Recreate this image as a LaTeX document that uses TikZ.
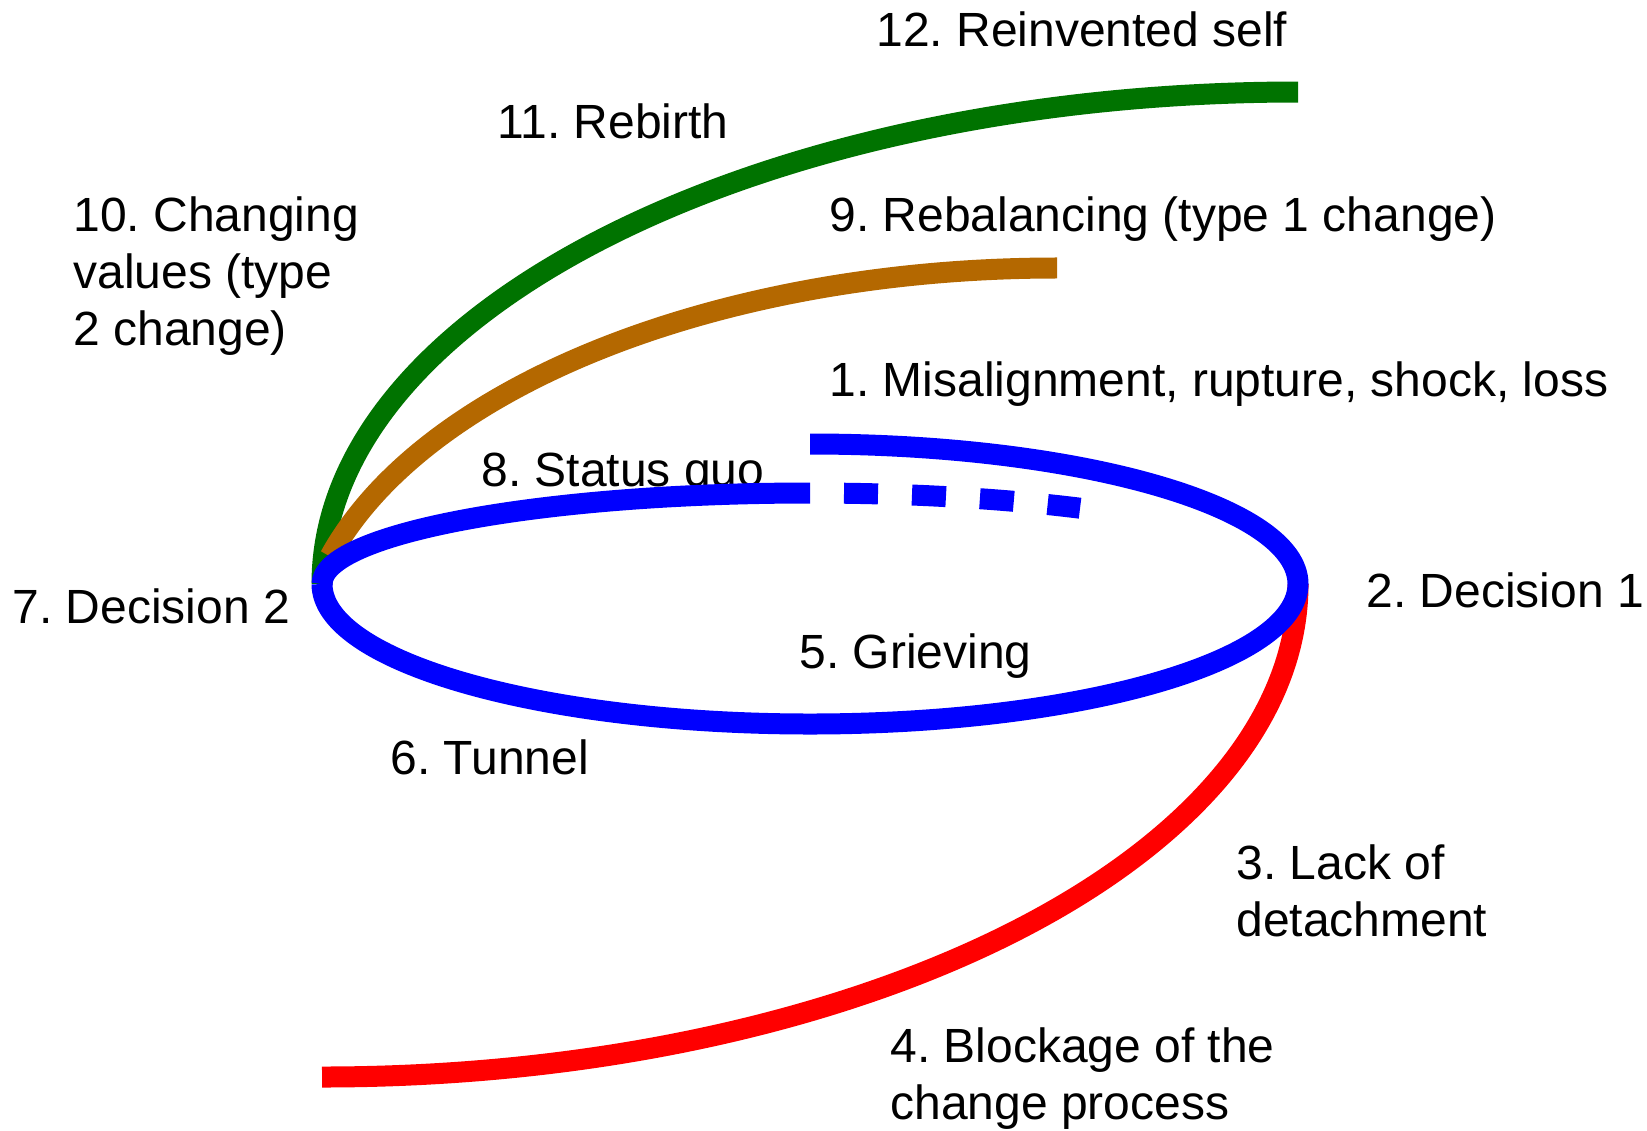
\documentclass[tikz,border=0pt]{standalone}
\usepackage{fontspec}
\setmainfont{Liberation Sans}
\definecolor{phaseblue}{RGB}{0,0,255}
\definecolor{phasered}{RGB}{255,0,0}
\definecolor{phasegreen}{RGB}{0,115,0}
\definecolor{phasebrown}{RGB}{180,104,0}
\frenchspacing
\begin{document}
\begin{tikzpicture}[x=0.5pt,y=-0.5pt,
  lbl/.style={anchor=base west, inner sep=0pt, align=left,
    font=\fontsize{24pt}{28.5pt}\selectfont},
  band/.style={line width=10.5pt, line cap=butt, line join=round}]
\useasboundingbox (0,0) rectangle (1647,1130);

% labels of the twelve stages (multi-line labels sit on their last line)
\node[lbl] (t12) at (876,46)   {12. Reinvented self};
\node[lbl] (t11) at (497,138)  {11. Rebirth};
\node[lbl] (t10) at (73,345)   {10. Changing\\values (type\\2 change)};
\node[lbl] (t9)  at (829,231)  {9. Rebalancing (type 1 change)};
\node[lbl] (t1)  at (829,396)  {1. Misalignment, rupture, shock, loss};
\node[lbl] (t8)  at (481,486)  {8. Status quo};
\node[lbl] (t2)  at (1366,607) {2. Decision 1};
\node[lbl] (t7)  at (12,623)   {7. Decision 2};
\node[lbl] (t5)  at (799,668)  {5. Grieving};
\node[lbl] (t6)  at (390,774)  {6. Tunnel};
\node[lbl] (t3)  at (1236,936) {3. Lack of\\detachment};
\node[lbl] (t4)  at (890,1119) {4. Blockage of the\\change process};

% junction points of the cycle
\coordinate (d1) at (1298,584);
\coordinate (d2) at (322,584);
\coordinate (top) at (810,444);

% decision 1 -> blockage
\draw[band, phasered] (d1) arc[start angle=0, end angle=90, x radius=976, y radius=493];
% decision 2 -> rebirth -> reinvented self
\draw[band, phasegreen] (d2) arc[start angle=180, end angle=270, x radius=976, y radius=492];
% decision 2 -> rebalancing
\draw[band, phasebrown] (330.1,556.4) arc[start angle=196.2, end angle=270, x radius=757, y radius=400];
% main loop: misalignment, decision 1, grieving, tunnel, decision 2
\draw[band, phaseblue] (top) arc[start angle=-90, end angle=180, x radius=488, y radius=140];
% status quo
\draw[band, phaseblue] (d2) arc[start angle=180, end angle=270, x radius=488, y radius=91]
  coordinate (sq);
\draw[band, phaseblue, dash pattern=on 17pt off 17pt, dash phase=17pt]
  (sq) arc[start angle=270, end angle=303.6, x radius=488, y radius=91];
\end{tikzpicture}
\end{document}
